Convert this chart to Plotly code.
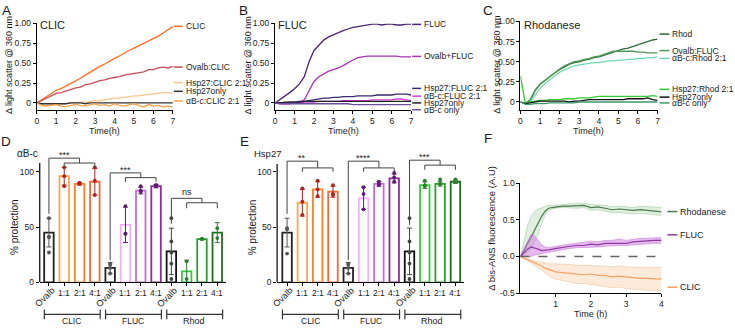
import plotly.graph_objects as go

W, H = 735, 330
FONT = "Arial, Liberation Sans, sans-serif"
TXT = "#1a1a1a"


def fx(px):
    return px / W


def fy(py):
    return 1 - py / H


# ---------------- DATA: panels A-C (light scatter, 0-7 h) ----------------
T = [0, 0.25, 0.5, 0.75, 1, 1.25, 1.5, 1.75, 2, 2.25, 2.5, 2.75, 3, 3.25, 3.5,
     3.75, 4, 4.25, 4.5, 4.75, 5, 5.25, 5.5, 5.75, 6, 6.25, 6.5, 6.75, 7]

A_names = ["CLIC", "Ovalb:CLIC", "Hsp27:CLIC 2:1", "Hsp27only", "αB-c:CLIC 2:1"]
A_CLIC = [0.00, 0.04, 0.08, 0.12, 0.16, 0.18, 0.21, 0.25, 0.28, 0.31, 0.35, 0.39, 0.43, 0.46, 0.49,
          0.53, 0.56, 0.59, 0.63, 0.66, 0.69, 0.72, 0.74, 0.77, 0.80, 0.84, 0.88, 0.92, 0.96]
A_Ovalb = [0.00, 0.03, 0.06, 0.09, 0.12, 0.13, 0.15, 0.17, 0.19, 0.20, 0.23, 0.24, 0.26, 0.28, 0.29,
           0.31, 0.32, 0.33, 0.35, 0.36, 0.37, 0.38, 0.39, 0.42, 0.42, 0.44, 0.45, 0.44, 0.46]
A_Hsp27 = [0.00, -0.02, -0.03, -0.02, -0.02, -0.01, -0.01, 0.00, 0.00, 0.01, 0.01, 0.02, 0.03, 0.03, 0.04,
           0.05, 0.06, 0.06, 0.07, 0.08, 0.09, 0.09, 0.10, 0.11, 0.11, 0.12, 0.13, 0.13, 0.12]
A_Hsp27only = [0.00, -0.01, -0.01, -0.01, -0.01, -0.01, -0.01, 0.00, 0.00, 0.00, -0.01, 0.00, 0.00, 0.00, 0.00,
               0.00, 0.00, 0.00, 0.00, 0.00, 0.00, 0.00, 0.00, 0.00, 0.00, 0.00, 0.00, 0.00, 0.00]
A_aBc = [0.00, -0.03, -0.04, -0.03, -0.02, -0.04, -0.05, -0.03, -0.02, -0.03, -0.04, -0.02, -0.01, -0.03, -0.02,
         -0.04, -0.01, -0.03, -0.04, -0.02, -0.01, -0.03, -0.05, -0.02, -0.04, -0.03, -0.05, -0.04, -0.05]

B_names = ["FLUC", "Ovalb+FLUC", "Hsp27:FLUC 2:1", "αB-c:FLUC 2:1", "Hsp27only", "αB-c only"]
B_FLUC = [0.00, 0.04, 0.09, 0.13, 0.18, 0.24, 0.33, 0.52, 0.66, 0.73, 0.79, 0.83, 0.86, 0.88, 0.91,
          0.93, 0.95, 0.96, 0.97, 0.98, 0.99, 0.99, 0.98, 0.99, 0.99, 0.98, 0.98, 0.99, 0.99]
B_Ovalb = [0.00, 0.00, -0.01, 0.00, 0.00, 0.01, 0.04, 0.16, 0.27, 0.33, 0.37, 0.40, 0.42, 0.44, 0.47,
           0.51, 0.54, 0.57, 0.58, 0.59, 0.59, 0.59, 0.59, 0.59, 0.59, 0.59, 0.58, 0.58, 0.58]
B_Hsp27 = [0.00, 0.00, 0.00, 0.01, 0.01, 0.02, 0.02, 0.03, 0.04, 0.05, 0.06, 0.06, 0.07, 0.07, 0.08,
           0.08, 0.08, 0.09, 0.09, 0.09, 0.09, 0.10, 0.10, 0.10, 0.10, 0.11, 0.11, 0.11, 0.10]
B_aBc = [0.00, -0.01, -0.01, -0.01, 0.00, 0.00, 0.01, 0.01, 0.01, 0.02, 0.02, 0.02, 0.02, 0.02, 0.03,
         0.03, 0.03, 0.03, 0.03, 0.03, 0.04, 0.04, 0.04, 0.04, 0.04, 0.05, 0.05, 0.04, 0.03]
B_Hsp27only = [0.00, 0.00, 0.01, 0.01, 0.01, 0.01, 0.02, 0.02, 0.02, 0.02, 0.02, 0.02, 0.02, 0.02, 0.02,
               0.02, 0.02, 0.02, 0.02, 0.02, 0.02, 0.02, 0.02, 0.02, 0.02, 0.02, 0.02, 0.02, 0.02]
B_aBconly = [0.00, -0.01, -0.01, -0.01, -0.01, -0.01, -0.01, -0.01, -0.01, -0.01, -0.01, -0.01, -0.01, -0.01, -0.01,
             -0.01, -0.02, -0.02, -0.02, -0.02, -0.02, -0.02, -0.02, -0.02, -0.02, -0.02, -0.02, -0.02, -0.02]

C_names = ["Rhod", "Ovalb:FLUC", "αB-c:Rhod 2:1", "Hsp27:Rhod 2:1", "Hsp27only", "αB-c only"]
C_Rhod = [0.00, -0.02, 0.02, 0.14, 0.22, 0.27, 0.31, 0.36, 0.40, 0.44, 0.47, 0.49, 0.50, 0.52, 0.53,
          0.55, 0.56, 0.58, 0.60, 0.62, 0.64, 0.66, 0.67, 0.69, 0.71, 0.73, 0.75, 0.77, 0.78]
C_Ovalb = [0.00, -0.02, 0.03, 0.15, 0.22, 0.27, 0.32, 0.37, 0.41, 0.45, 0.48, 0.50, 0.51, 0.53, 0.54,
           0.56, 0.57, 0.59, 0.61, 0.63, 0.63, 0.63, 0.63, 0.63, 0.62, 0.62, 0.61, 0.61, 0.61]
C_aBc = [0.00, -0.02, 0.00, 0.08, 0.17, 0.23, 0.28, 0.33, 0.37, 0.40, 0.43, 0.45, 0.46, 0.47, 0.48,
         0.49, 0.49, 0.50, 0.51, 0.51, 0.52, 0.52, 0.53, 0.53, 0.54, 0.54, 0.55, 0.55, 0.56]
C_Hsp27 = [0.32, -0.02, 0.00, 0.01, 0.02, 0.02, 0.03, 0.03, 0.03, 0.04, 0.04, 0.04, 0.05, 0.05, 0.05,
           0.06, 0.07, 0.07, 0.07, 0.07, 0.07, 0.07, 0.07, 0.07, 0.07, 0.07, 0.07, 0.08, 0.07]
C_Hsp27only = [0.00, -0.02, -0.01, 0.00, 0.01, 0.01, 0.01, 0.01, 0.01, 0.01, 0.00, 0.01, 0.01, 0.02, 0.03,
               0.03, 0.03, 0.03, 0.03, 0.03, 0.03, 0.03, 0.04, 0.04, 0.04, 0.04, 0.05, 0.03, 0.02]
C_aBconly = [0.00, -0.03, -0.03, -0.02, -0.02, -0.02, -0.01, -0.01, -0.01, -0.01, -0.01, -0.01, 0.00, 0.00, 0.00,
             0.00, 0.00, 0.00, 0.00, 0.00, 0.00, 0.00, 0.00, 0.00, 0.00, 0.00, 0.00, 0.00, 0.00]

# ---------------- DATA: panels D-E (% protection) ----------------
bar_labels = ["Ovalb", "1:1", "2:1", "4:1"] * 3
groups = ["CLIC", "FLUC", "Rhod"]
D_mean = [45, 96, 89, 91, 13, 52, 83, 87, 28, 10, 39, 45]
D_sd = [13, 8, 1, 12, 5, 16, 3, 1.5, 21, 10, 0.5, 9]
D_pts = [[58, 41, 41, 27], [104, 96, 87], [89, 90, 90], [104, 92, 79],
         [17, 16, 13, 8], [69, 44, 44], [87, 82, 83], [88, 88, 87],
         [58, 37, 27, 17, 3], [19, 3], [39, 39.5], [49, 40]]
E_mean = [45, 72, 84, 82, 13, 76, 89, 94, 28, 88, 89, 91]
E_sd = [13, 12, 7, 5, 5, 10, 2, 4, 21, 3, 2, 1.5]
E_pts = [[49, 48, 26], [85, 73, 61], [92, 84, 78], [88, 80, 79],
         [17, 16, 13, 8], [86, 80, 66], [91, 89, 88], [99, 95, 91],
         [58, 37, 27, 17, 3], [92, 88, 87], [93, 89, 89], [93, 91, 91]]
D_sig = ["***", "***", "ns"]
E_sig = ["**", "****", "***"]

# ---------------- DATA: panel F (bis-ANS, 0-4 h) ----------------
TF = [0, 0.1, 0.2, 0.3, 0.4, 0.5, 0.6, 0.7, 0.8, 0.9, 1.0, 1.2, 1.4, 1.6, 1.8, 2.0,
      2.2, 2.4, 2.6, 2.8, 3.0, 3.2, 3.4, 3.6, 3.8, 4.0]
F_names = ["Rhodanese", "FLUC", "CLIC"]
F_rh_mean = [0, 0.08, 0.18, 0.26, 0.36, 0.46, 0.55, 0.62, 0.66, 0.67, 0.68, 0.69, 0.69, 0.69, 0.70, 0.67,
             0.68, 0.66, 0.64, 0.65, 0.64, 0.63, 0.64, 0.63, 0.61, 0.61]
F_rh_hi = [0, 0.20, 0.42, 0.55, 0.62, 0.65, 0.67, 0.69, 0.70, 0.70, 0.70, 0.71, 0.72, 0.72, 0.73, 0.71,
           0.71, 0.70, 0.68, 0.69, 0.68, 0.67, 0.69, 0.68, 0.67, 0.67]
F_rh_lo = [0, 0.02, 0.05, 0.10, 0.20, 0.30, 0.45, 0.57, 0.63, 0.65, 0.66, 0.67, 0.66, 0.66, 0.67, 0.63,
           0.64, 0.62, 0.60, 0.60, 0.59, 0.58, 0.59, 0.58, 0.56, 0.56]
F_fl_mean = [0, 0.05, 0.10, 0.13, 0.12, 0.10, 0.08, 0.08, 0.09, 0.10, 0.11, 0.12, 0.14, 0.15, 0.15, 0.17,
             0.16, 0.18, 0.18, 0.19, 0.18, 0.20, 0.21, 0.21, 0.22, 0.22]
F_fl_hi = [0, 0.10, 0.22, 0.30, 0.28, 0.22, 0.16, 0.13, 0.12, 0.13, 0.14, 0.15, 0.17, 0.18, 0.19, 0.21,
           0.20, 0.22, 0.22, 0.24, 0.22, 0.24, 0.25, 0.25, 0.26, 0.26]
F_fl_lo = [0, 0.00, 0.00, 0.00, 0.02, 0.03, 0.04, 0.05, 0.06, 0.07, 0.08, 0.09, 0.11, 0.12, 0.12, 0.13,
           0.13, 0.14, 0.15, 0.15, 0.15, 0.16, 0.17, 0.17, 0.18, 0.18]
F_cl_mean = [0, -0.02, -0.04, -0.06, -0.08, -0.11, -0.13, -0.16, -0.18, -0.20, -0.21, -0.22, -0.23, -0.24, -0.25,
             -0.24, -0.26, -0.26, -0.28, -0.27, -0.28, -0.30, -0.30, -0.30, -0.31, -0.31]
F_cl_hi = [0, -0.01, -0.03, -0.05, -0.06, -0.08, -0.09, -0.10, -0.10, -0.10, -0.10, -0.11, -0.11, -0.12, -0.12,
           -0.12, -0.13, -0.13, -0.14, -0.13, -0.14, -0.15, -0.15, -0.15, -0.15, -0.15]
F_cl_lo = [0, -0.03, -0.06, -0.08, -0.11, -0.15, -0.19, -0.23, -0.26, -0.29, -0.31, -0.33, -0.35, -0.37, -0.37,
           -0.38, -0.40, -0.41, -0.43, -0.42, -0.44, -0.45, -0.46, -0.46, -0.47, -0.47]

# ---------------- STYLE ----------------
A_cols = ["#FF6A1F", "#C24F55", "#FFC48A", "#333333", "#F7A24B"]
B_cols = ["#4A2472", "#A634B5", "#3A2A6E", "#D640D6", "#222222", "#6B4FA0"]
C_cols = ["#2F6B3A", "#4E9A55", "#6FD8B0", "#2ECC2E", "#111111", "#3A9A6A"]
bar_line = ["#222222", "#FFA54F", "#FF8026", "#F26A35",
            "#222222", "#EFB2F5", "#C46BD8", "#8C2A9C",
            "#111111", "#33CC33", "#2B9E2B", "#1F6E1F"]
pt_col = ["#555555", "#B22222", "#B22222", "#B22222",
          "#555555", "#5B1E6E", "#5B1E6E", "#5B1E6E",
          "#444444", "#2E7D32", "#2E7D32", "#2E7D32"]
F_line = ["#4E7A4E", "#8E3A9E", "#F4A060"]
F_fill = ["rgba(150,200,150,0.30)", "rgba(205,120,225,0.50)", "rgba(250,190,140,0.32)"]
F_edge = ["rgba(120,180,120,0.6)", "rgba(190,100,210,0.8)", "rgba(245,170,110,0.7)"]

fig = go.Figure()


def add_lines(xa, ya, names, series, cols):
    for n, s, c in zip(names, series, cols):
        fig.add_trace(go.Scatter(x=T, y=s, name=n, mode="lines",
                                 line=dict(color=c, width=1.3),
                                 xaxis=xa, yaxis=ya, hoverinfo="skip"))


add_lines("x", "y", A_names, [A_CLIC, A_Ovalb, A_Hsp27, A_Hsp27only, A_aBc], A_cols)
add_lines("x2", "y2", B_names, [B_FLUC, B_Ovalb, B_Hsp27, B_aBc, B_Hsp27only, B_aBconly], B_cols)
add_lines("x3", "y3", C_names, [C_Rhod, C_Ovalb, C_aBc, C_Hsp27, C_Hsp27only, C_aBconly], C_cols)


def add_bars(xa, ya, mean, sd, pts):
    for i, (m, s, p) in enumerate(zip(mean, sd, pts)):
        fig.add_trace(go.Bar(x=[i], y=[m], width=0.62,
                             marker=dict(color="white", line=dict(color=bar_line[i], width=1.8)),
                             error_y=dict(type="data", array=[s], color=pt_col[i], thickness=1, width=2.5),
                             xaxis=xa, yaxis=ya, hoverinfo="skip"))
        fig.add_trace(go.Scatter(x=[i] * len(p), y=p, mode="markers",
                                 marker=dict(size=3.8, color=pt_col[i]),
                                 xaxis=xa, yaxis=ya, cliponaxis=False, hoverinfo="skip"))


add_bars("x4", "y4", D_mean, D_sd, D_pts)
add_bars("x5", "y5", E_mean, E_sd, E_pts)

for lo, hi, mean, lc, fc, ec in zip([F_rh_lo, F_fl_lo, F_cl_lo], [F_rh_hi, F_fl_hi, F_cl_hi],
                                    [F_rh_mean, F_fl_mean, F_cl_mean], F_line, F_fill, F_edge):
    fig.add_trace(go.Scatter(x=TF, y=lo, mode="lines", line=dict(color=ec, width=0.6),
                             xaxis="x6", yaxis="y6", hoverinfo="skip"))
    fig.add_trace(go.Scatter(x=TF, y=hi, mode="lines", fill="tonexty", fillcolor=fc,
                             line=dict(color=ec, width=0.6),
                             xaxis="x6", yaxis="y6", hoverinfo="skip"))
    fig.add_trace(go.Scatter(x=TF, y=mean, mode="lines", line=dict(color=lc, width=1.2),
                             xaxis="x6", yaxis="y6", hoverinfo="skip"))


# ---------------- AXES ----------------
def axis(dom, rng, **kw):
    d = dict(domain=dom, range=rng, showline=True, linecolor="black", linewidth=1.2,
             ticks="outside", ticklen=3, tickwidth=1, tickcolor="black",
             showgrid=False, zeroline=False, fixedrange=True,
             tickfont=dict(size=8.5, color=TXT, family=FONT))
    d.update(kw)
    return d


top_yt = dict(tickvals=[0, 0.25, 0.5, 0.75, 1.0], ticktext=["0", "0.25", "0.50", "0.75", "1.00"])
xt7 = dict(tickvals=[0, 1, 2, 3, 4, 5, 6, 7])

layout = dict(
    width=W, height=H, margin=dict(l=0, r=0, t=0, b=0),
    paper_bgcolor="white", plot_bgcolor="white", showlegend=False,
    barmode="overlay", font=dict(family=FONT, color=TXT),
    xaxis=axis([fx(35), fx(172)], [0, 7], anchor="y", **xt7),
    yaxis=axis([fy(108), fy(19)], [-0.085, 1.0], anchor="x", **top_yt),
    xaxis2=axis([fx(275), fx(412)], [0, 7], anchor="y2", **xt7),
    yaxis2=axis([fy(108), fy(19)], [-0.085, 1.0], anchor="x2", **top_yt),
    xaxis3=axis([fx(522), fx(660)], [0, 7], anchor="y3", **xt7),
    yaxis3=axis([fy(108), fy(17)], [-0.096, 1.0], anchor="x3", **top_yt),
    xaxis4=axis([fx(38), fx(226)], [-0.6, 11.6], anchor="y4",
                tickvals=list(range(len(D_mean))), showticklabels=False),
    yaxis4=axis([fy(286), fy(146)], [0, 122.8], anchor="x4", showline=False,
                tickvals=[0, 50, 100], ticktext=["0", "50", "100"]),
    xaxis5=axis([fx(277), fx(465)], [-0.65, 11.55], anchor="y5",
                tickvals=list(range(len(E_mean))), showticklabels=False),
    yaxis5=axis([fy(286), fy(146)], [0, 122.8], anchor="x5", showline=False,
                tickvals=[0, 50, 100], ticktext=["0", "50", "100"]),
    xaxis6=axis([fx(522), fx(664)], [0, 4], anchor="y6", tickvals=[1, 2, 3, 4]),
    yaxis6=axis([fy(297), fy(184)], [-0.5, 1.0], anchor="x6",
                tickvals=[-0.5, 0, 0.5, 1.0], ticktext=["-0.5", "0.0", "0.5", "1.0"]),
)

shapes = []
ann = []


def text(x, y, s, size=9, xref="paper", yref="paper", **kw):
    d = dict(x=x, y=y, text=s, xref=xref, yref=yref, showarrow=False,
             xanchor="center", yanchor="middle", borderpad=0,
             font=dict(size=size, color=TXT, family=FONT))
    d.update(kw)
    ann.append(d)


# panel letters
for L, (px, py) in zip("ABCDEF", [(4.5, 6), (243.5, 6), (489, 6), (4.5, 141), (244, 141), (489, 138)]):
    text(fx(px), fy(py), L, size=13.5)

# top-row titles / axis titles
for cx, s in [(51, "CLIC"), (292, "FLUC"), (554, "Rhodanese")]:
    text(fx(cx), fy(21), s, size=11)
for cx in [7, 248, 499]:
    text(fx(cx), fy(62), "Δ light scatter @ 360 nm", size=9, textangle=-90)
for cx in [103.5, 343.5, 591]:
    text(fx(cx), fy(130), "Time(h)", size=9)

# top-row legends
for names, cols, ys, (s0, s1, lx) in [
        (A_names, A_cols, [22, 64, 80, 89, 99], (173, 182, 184)),
        (B_names, B_cols, [20, 53, 86, 94, 101, 108], (413, 422, 424)),
        (C_names, C_cols, [30, 47, 55, 87, 95, 101], (662, 672, 674))]:
    for n, c, yy in zip(names, cols, ys):
        shapes.append(dict(type="line", xref="paper", yref="paper", x0=fx(s0), x1=fx(s1),
                           y0=fy(yy), y1=fy(yy), line=dict(color=c, width=1.5)))
        text(fx(lx), fy(yy), n, size=8.5, xanchor="left")

# panels D & E
for xa, ya, mean, sig, ylab, ylx, ytop, brk in [
        ("x4", "y4", D_mean, D_sig, "αB-c", 25.5, 108,
         [(112.3, 107.9, 103.5, 62), (99, 94.7, 91, 20), (76, 72, 67, 53)]),
        ("x5", "y5", E_mean, E_sig, "Hsp27", 267, 107,
         [(109.6, 103.5, 100, 62), (109.6, 103.5, 100, 20), (110.5, 106, 101.8, 52)])]:
    # y axis line
    shapes.append(dict(type="line", xref=xa + " domain", x0=0, x1=0, yref=ya, y0=0, y1=ytop,
                       line=dict(color="black", width=1.2)))
    text(fx(ylx), fy(153), ylab, size=9.5 if ylab == "Hsp27" else 10)
    text(fx(12 if xa == "x4" else 252), fy(229), "% protection", size=10, textangle=-90)
    for i, lab in enumerate(bar_labels):
        if lab == "Ovalb":
            text(i, fy(301), lab, size=9, xref=xa, textangle=-45, xshift=-4)
        else:
            text(i, fy(297), lab, size=8.5, xref=xa)
    for g, gname in enumerate(groups):
        a, b = g * 4 - 0.3, g * 4 + 3.35
        shapes.append(dict(type="path", xref=xa, yref="paper",
                           path=f"M {a},{fy(314)} L {a},{fy(324)} M {a},{fy(319)} L {b},{fy(319)} "
                                f"M {b},{fy(314)} L {b},{fy(324)}",
                           line=dict(color="#333333", width=1.2)))
        text(g * 4 + 1.5, fy(325.5), gname, size=9 if gname == "Rhod" else 8.5, xref=xa)
        top, sec, tick, bot = brk[g]
        x0 = g * 4
        shapes.append(dict(type="path", xref=xa, yref=ya,
                           path=f"M {x0},{bot} L {x0},{top} L {x0 + 2},{top} L {x0 + 2},{sec} "
                                f"M {x0 + 1},{tick} L {x0 + 1},{sec} L {x0 + 3},{sec} L {x0 + 3},{tick}",
                           line=dict(color="#444444", width=1)))
        s = sig[g]
        text(x0 + 1, top, s, size=9, xref=xa, yref=ya, yanchor="bottom",
             yshift=-3 if "*" in s else 0)

# panel F
shapes.append(dict(type="line", xref="x6 domain", x0=0, x1=1, yref="y6", y0=0, y1=0,
                   line=dict(color="#666666", width=1.5, dash="dash")))
text(fx(492), fy(230), "Δ bis-ANS fluorescence (A.U)", size=9.5, textangle=-90)
text(fx(593), fy(318.5), "Time (h)", size=9)
for n, c, yy in zip(F_names, F_line, [213, 237, 291]):
    shapes.append(dict(type="line", xref="paper", yref="paper", x0=fx(670), x1=fx(680),
                       y0=fy(yy), y1=fy(yy), line=dict(color=c, width=1.5)))
    text(fx(682), fy(yy), n, size=9, xanchor="left")

layout["shapes"] = shapes
layout["annotations"] = ann
fig.update_layout(**layout)
fig.write_html("out.html", config={"displayModeBar": False},
               post_script="document.body.style.margin='0';document.body.style.padding='0';")
